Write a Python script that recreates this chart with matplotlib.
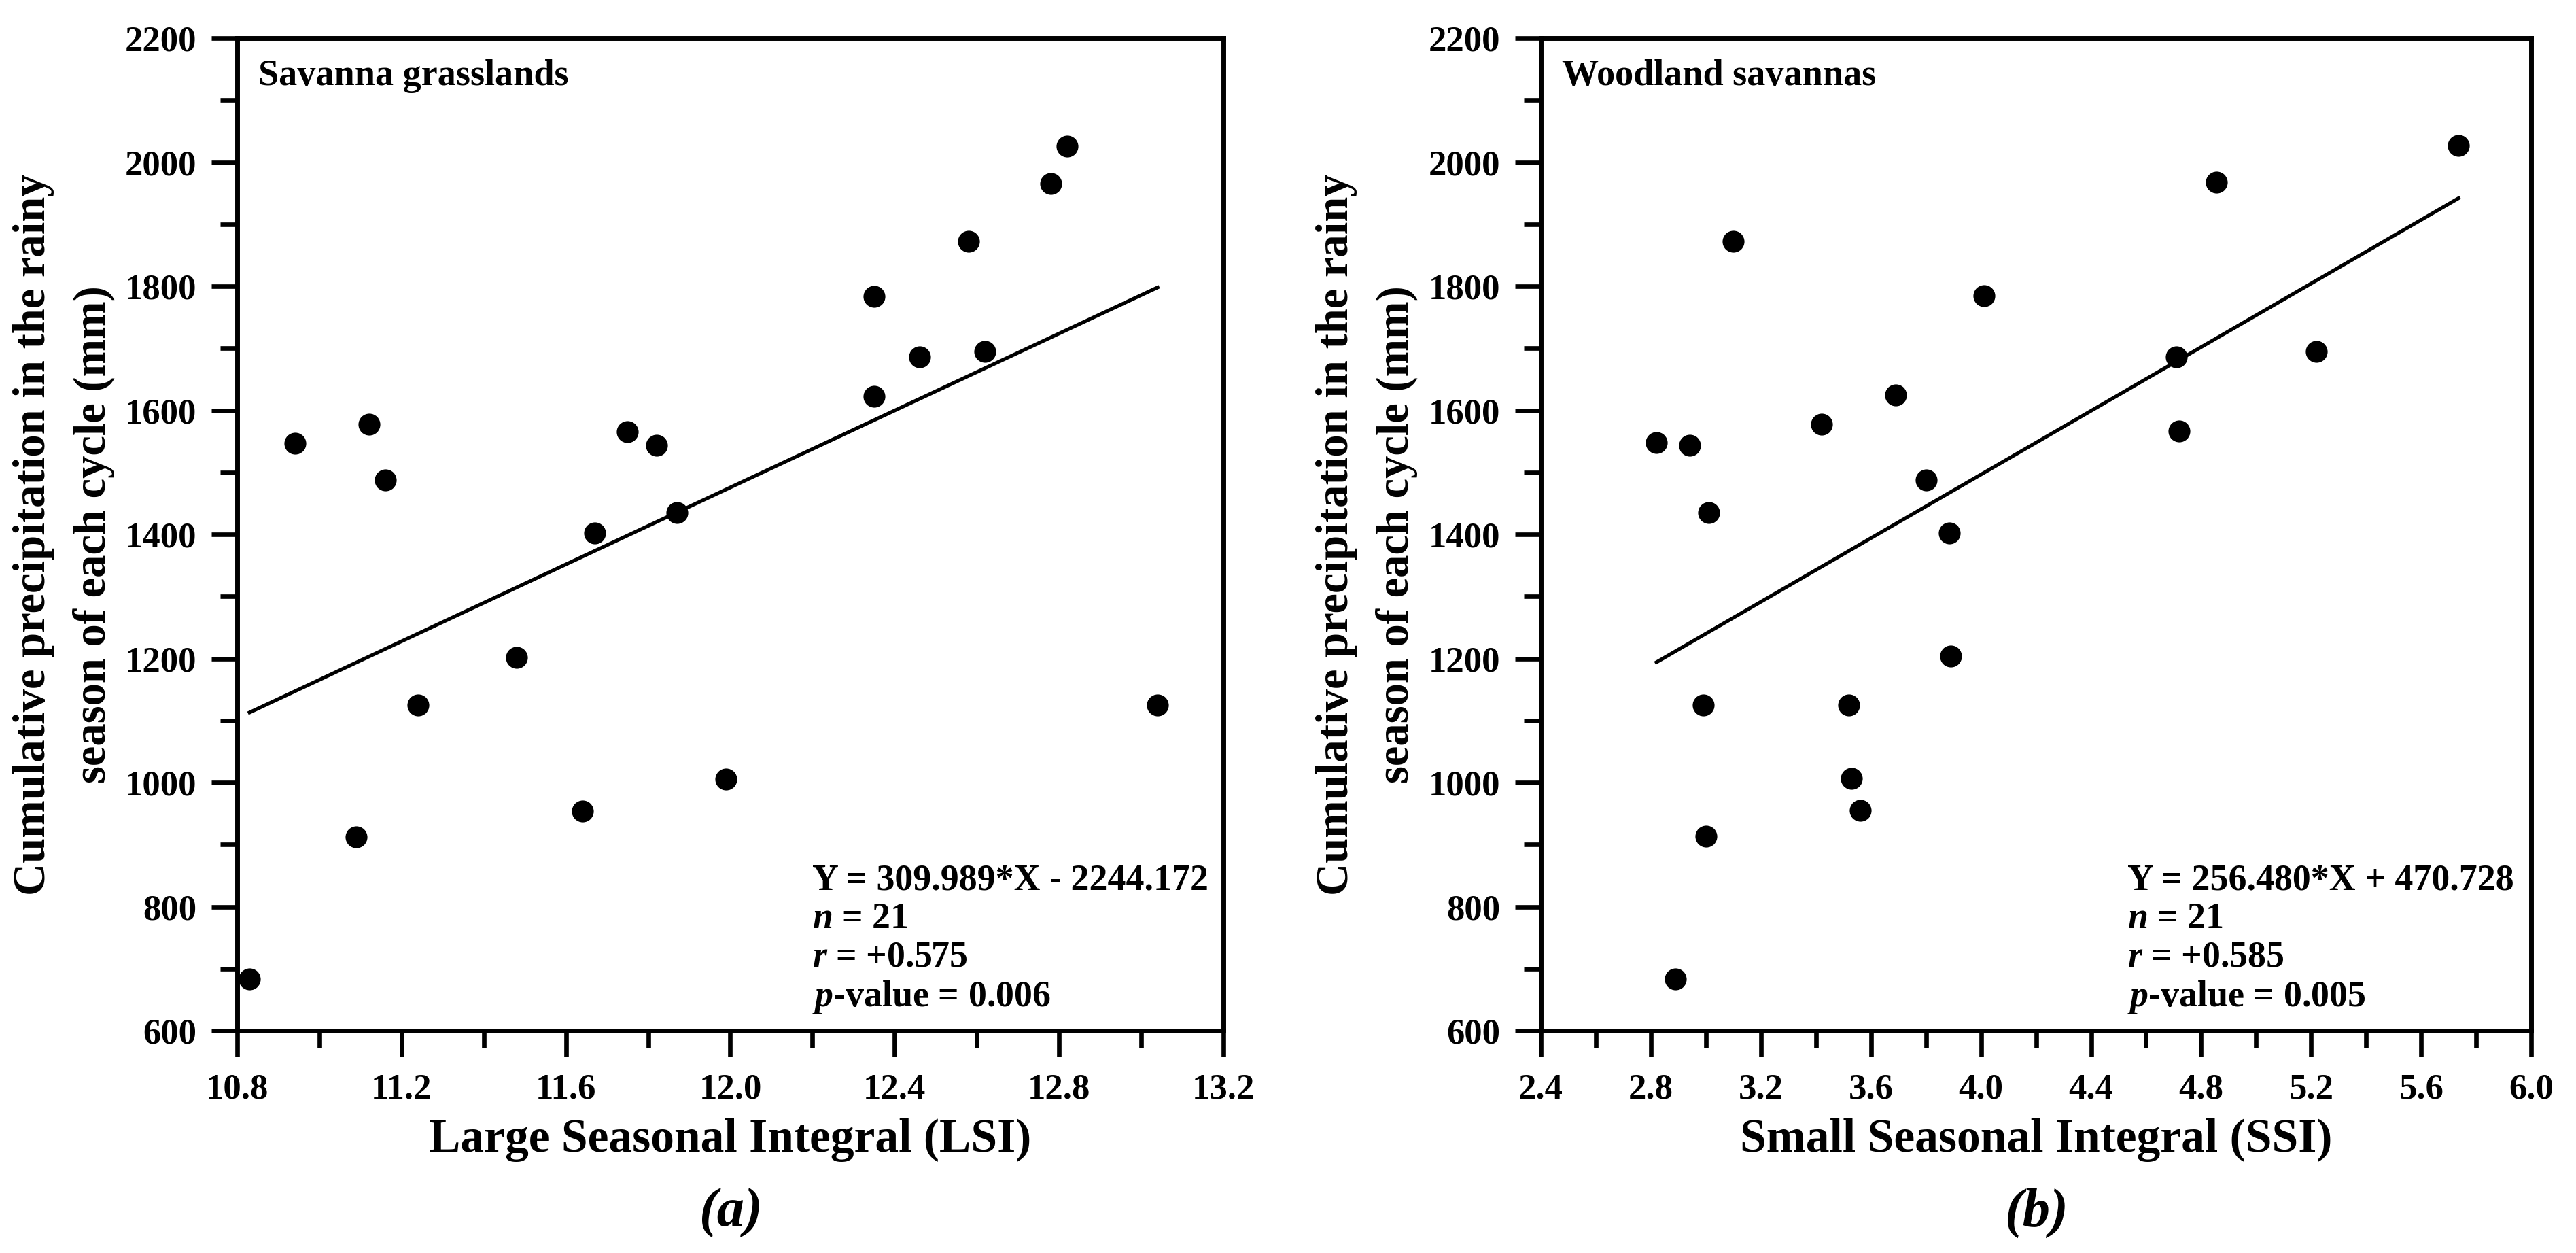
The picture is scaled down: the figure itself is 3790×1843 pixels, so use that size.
import matplotlib
matplotlib.use("Agg")
import matplotlib.pyplot as plt
from matplotlib.ticker import MultipleLocator, FormatStrFormatter
import numpy as np

# precipitation of each cycle (mm), same cycles in both panels
lsi = [10.83, 10.94, 11.12, 11.16, 11.09, 11.24, 11.48, 11.64, 11.67, 11.75, 11.82,
       11.87, 11.99, 12.35, 12.35, 12.46, 12.58, 12.62, 12.78, 12.82, 13.04]
precip_a = [683, 1547, 1578, 1488, 912, 1125, 1202, 954, 1402, 1566, 1544,
            1435, 1006, 1623, 1784, 1686, 1872, 1695, 1966, 2026, 1125]

ssi = [2.82, 2.94, 3.01, 2.89, 2.99, 3.00, 3.10, 3.42, 3.52, 3.53, 3.56,
       3.69, 3.80, 3.885, 3.89, 4.01, 4.71, 4.72, 4.855, 5.22, 5.736]
precip_b = [1548, 1544, 1435, 683, 1125, 913, 1872, 1578, 1125, 1007, 955,
            1625, 1488, 1402, 1204, 1785, 1686, 1567, 1968, 1695, 2027]

fit_a = (309.989, -2244.172)
fit_b = (256.480, 470.728)

stats_a = ["Y = 309.989*X - 2244.172", r"$\mathit{n}$ = 21", r"$\mathit{r}$ = +0.575",
           r"$\mathit{p}$-value = 0.006"]
stats_b = ["Y = 256.480*X + 470.728", r"$\mathit{n}$ = 21", r"$\mathit{r}$ = +0.585",
           r"$\mathit{p}$-value = 0.005"]

plt.rcParams['font.family'] = ['Liberation Serif', 'DejaVu Serif']
plt.rcParams['font.weight'] = 'bold'
plt.rcParams['mathtext.fontset'] = 'custom'
plt.rcParams['mathtext.it'] = 'Liberation Serif:italic:bold'
plt.rcParams['mathtext.rm'] = 'Liberation Serif:bold'

fig = plt.figure(figsize=(18.95, 9.215), dpi=200)
ax_a = fig.add_axes([0.0921, 0.1774, 0.3828, 0.7922])
ax_b = fig.add_axes([0.5982, 0.1774, 0.3844, 0.7922])

ylabel = "Cumulative precipitation in the rainy\nseason of each cycle (mm)"


def draw_panel(ax, x, y, fit, stats, stats_x, xlim, xlabel, name, tag):
    ax.scatter(x, y, s=112, color='black', zorder=3)
    xs = np.array([min(x), max(x)])
    ax.plot(xs, fit[0] * xs + fit[1], color='black', lw=1.9)
    ax.set_xlim(*xlim)
    ax.set_ylim(600, 2200)
    ax.xaxis.set_major_locator(MultipleLocator(0.4))
    ax.xaxis.set_minor_locator(MultipleLocator(0.2))
    ax.yaxis.set_major_locator(MultipleLocator(200))
    ax.yaxis.set_minor_locator(MultipleLocator(100))
    ax.xaxis.set_major_formatter(FormatStrFormatter('%.1f'))
    ax.tick_params(axis='x', which='major', direction='out', length=13.8, width=2.4, labelsize=19, pad=8.6)
    ax.tick_params(axis='x', which='minor', direction='out', length=9, width=2.4)
    ax.tick_params(axis='y', which='major', direction='out', length=13.8, width=2.4, labelsize=19, pad=7.8)
    ax.tick_params(axis='y', which='minor', direction='out', length=9, width=2.4)
    for sp in ax.spines.values():
        sp.set_linewidth(2.5)
    ax.set_xlabel(xlabel, fontsize=25, fontweight='bold', va='center')
    ax.xaxis.set_label_coords(0.5, -0.110)
    ax.set_ylabel(ylabel, fontsize=24, fontweight='bold', linespacing=1.55, va='center')
    ax.yaxis.set_label_coords(-0.176, 0.5)
    ax.text(0.021, 0.979, name, transform=ax.transAxes, fontsize=19.5, fontweight='bold',
            va='top', ha='left')
    ax.text(stats_x, 0.015, "\n".join(stats), transform=ax.transAxes, fontsize=19.4,
            fontweight='bold', va='bottom', ha='left', linespacing=1.17)
    ax.text(0.5, -0.1836, tag, transform=ax.transAxes, fontsize=29, fontweight='bold',
            style='italic', ha='center', va='center')


draw_panel(ax_a, lsi, precip_a, fit_a, stats_a, 0.583, (10.8, 13.2),
           "Large Seasonal Integral (LSI)", "Savanna grasslands", "(a)")
draw_panel(ax_b, ssi, precip_b, fit_b, stats_b, 0.592, (2.4, 6.0),
           "Small Seasonal Integral (SSI)", "Woodland savannas", "(b)")

fig.savefig("out.png", dpi=200)
